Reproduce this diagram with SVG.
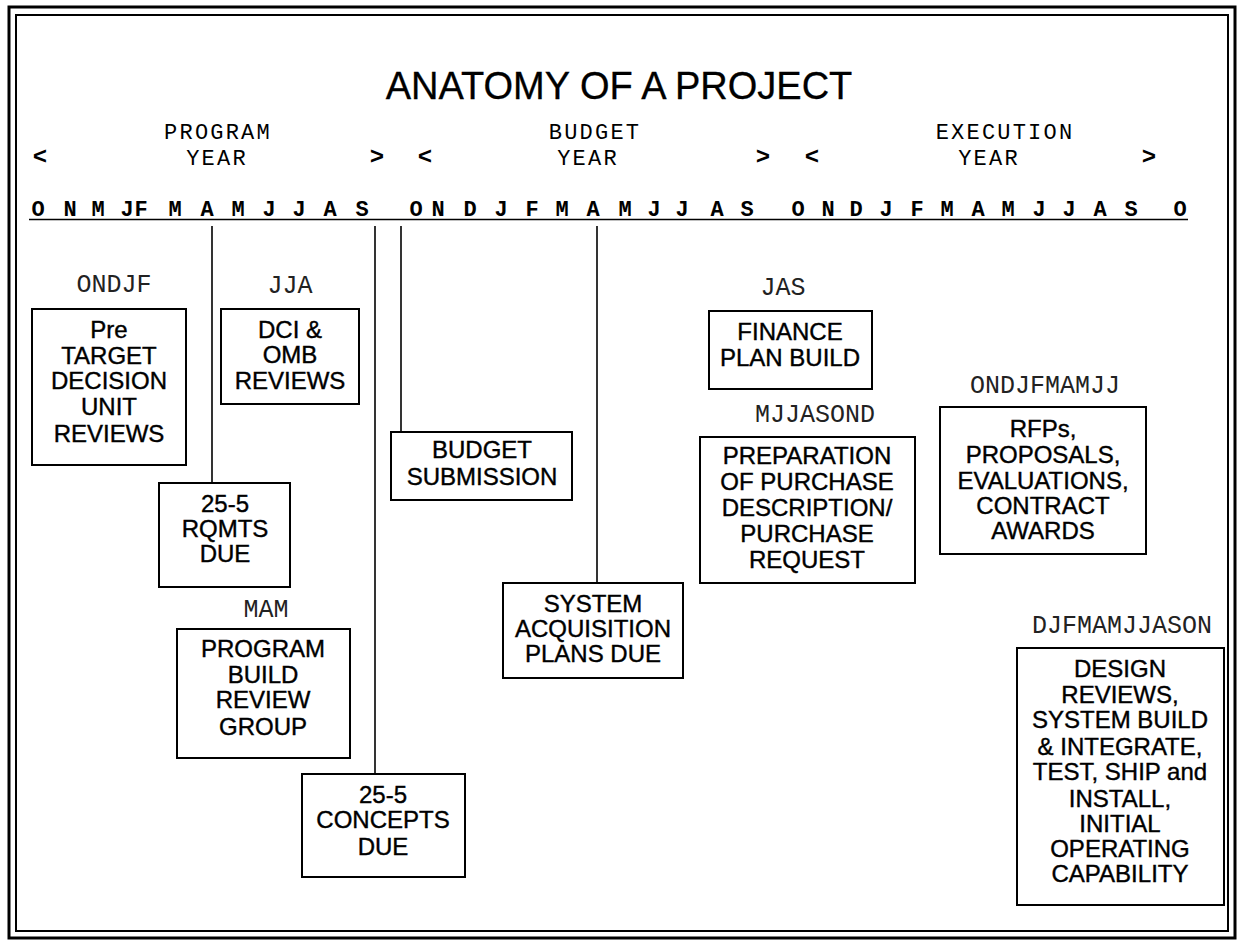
<svg xmlns="http://www.w3.org/2000/svg" width="1240" height="944" viewBox="0 0 1240 944">
<style>
.bg{fill:#fff}
.frame-o{fill:none;stroke:#000;stroke-width:3}
.frame-i{fill:none;stroke:#000;stroke-width:2}
.box{fill:#fff;stroke:#000;stroke-width:2}
.conn{stroke:#000;stroke-width:1.6;fill:none}
.title{font-family:"Liberation Sans",Arial,sans-serif;font-size:38px;fill:#000;stroke:#000;stroke-width:0.3;text-anchor:middle}
.hdr{font-family:"Liberation Mono","Courier New",monospace;font-size:22px;letter-spacing:2.2px;fill:#000;text-anchor:middle}
.chev{font-family:"Liberation Mono","Courier New",monospace;font-size:24px;font-weight:bold;fill:#000;text-anchor:middle}
.mon{font-family:"Liberation Mono","Courier New",monospace;font-size:22px;font-weight:bold;fill:#000;text-anchor:middle}
.lbl{font-family:"Liberation Mono","Courier New",monospace;font-size:25px;fill:#222;text-anchor:middle}
.bt{font-family:"Liberation Sans",Arial,sans-serif;font-size:24px;fill:#000;stroke:#000;stroke-width:0.4;text-anchor:middle}
</style>
<rect class="bg" x="0" y="0" width="1240" height="944"/>
<g id="frame">
<rect class="frame-o" x="9" y="7" width="1226" height="931"/>
<rect class="frame-i" x="16" y="15" width="1212" height="916"/>
</g>
<g id="title">
<text class="title" x="619" y="99">ANATOMY OF A PROJECT</text>
</g>
<g id="header">
<text class="hdr" x="218" y="139">PROGRAM</text>
<text class="hdr" x="217" y="165">YEAR</text>
<text class="hdr" x="595" y="139">BUDGET</text>
<text class="hdr" x="588" y="165">YEAR</text>
<text class="hdr" x="1005" y="139">EXECUTION</text>
<text class="hdr" x="989" y="165">YEAR</text>
<text class="chev" x="40" y="164">&lt;</text>
<text class="chev" x="377" y="164">&gt;</text>
<text class="chev" x="425" y="164">&lt;</text>
<text class="chev" x="763" y="164">&gt;</text>
<text class="chev" x="812" y="164">&lt;</text>
<text class="chev" x="1149" y="164">&gt;</text>
</g>
<g id="months">
<text class="mon" x="38" y="216">O</text>
<text class="mon" x="70" y="216">N</text>
<text class="mon" x="98" y="216">M</text>
<text class="mon" x="127" y="216">J</text>
<text class="mon" x="141" y="216">F</text>
<text class="mon" x="175" y="216">M</text>
<text class="mon" x="207" y="216">A</text>
<text class="mon" x="238" y="216">M</text>
<text class="mon" x="269" y="216">J</text>
<text class="mon" x="299" y="216">J</text>
<text class="mon" x="330" y="216">A</text>
<text class="mon" x="362" y="216">S</text>
<text class="mon" x="416" y="216">O</text>
<text class="mon" x="438" y="216">N</text>
<text class="mon" x="470" y="216">D</text>
<text class="mon" x="501" y="216">J</text>
<text class="mon" x="532" y="216">F</text>
<text class="mon" x="562" y="216">M</text>
<text class="mon" x="593" y="216">A</text>
<text class="mon" x="625" y="216">M</text>
<text class="mon" x="654" y="216">J</text>
<text class="mon" x="682" y="216">J</text>
<text class="mon" x="717" y="216">A</text>
<text class="mon" x="747" y="216">S</text>
<text class="mon" x="798" y="216">O</text>
<text class="mon" x="828" y="216">N</text>
<text class="mon" x="856" y="216">D</text>
<text class="mon" x="886" y="216">J</text>
<text class="mon" x="917" y="216">F</text>
<text class="mon" x="947" y="216">M</text>
<text class="mon" x="978" y="216">A</text>
<text class="mon" x="1008" y="216">M</text>
<text class="mon" x="1039" y="216">J</text>
<text class="mon" x="1069" y="216">J</text>
<text class="mon" x="1100" y="216">A</text>
<text class="mon" x="1131" y="216">S</text>
<text class="mon" x="1180" y="216">O</text>
<line class="conn" x1="29" y1="219.5" x2="1188" y2="219.5"/>
</g>
<g id="connectors">
<line class="conn" x1="212" y1="226" x2="212" y2="483"/>
<line class="conn" x1="375" y1="226" x2="375" y2="774"/>
<line class="conn" x1="401" y1="226" x2="401" y2="432"/>
<line class="conn" x1="597" y1="226" x2="597" y2="583"/>
</g>
<g id="n-pre">
<text class="lbl" x="114" y="292">ONDJF</text>
<rect class="box" x="32" y="309" width="154" height="156"/>
<text class="bt" x="109" y="338">Pre</text>
<text class="bt" x="109" y="364">TARGET</text>
<text class="bt" x="109" y="389">DECISION</text>
<text class="bt" x="109" y="415">UNIT</text>
<text class="bt" x="109" y="442">REVIEWS</text>
</g>
<g id="n-dci">
<text class="lbl" x="290" y="293">JJA</text>
<rect class="box" x="221" y="309" width="138" height="95"/>
<text class="bt" x="290" y="338">DCI &amp;</text>
<text class="bt" x="290" y="363">OMB</text>
<text class="bt" x="290" y="389">REVIEWS</text>
</g>
<g id="n-rqmts">
<rect class="box" x="159" y="483" width="131" height="104"/>
<text class="bt" x="225" y="512">25-5</text>
<text class="bt" x="225" y="537">RQMTS</text>
<text class="bt" x="225" y="562">DUE</text>
</g>
<g id="n-program-build">
<text class="lbl" x="266" y="617">MAM</text>
<rect class="box" x="177" y="629" width="173" height="129"/>
<text class="bt" x="263" y="657">PROGRAM</text>
<text class="bt" x="263" y="683">BUILD</text>
<text class="bt" x="263" y="708">REVIEW</text>
<text class="bt" x="263" y="735">GROUP</text>
</g>
<g id="n-concepts">
<rect class="box" x="302" y="774" width="163" height="103"/>
<text class="bt" x="383" y="803">25-5</text>
<text class="bt" x="383" y="828">CONCEPTS</text>
<text class="bt" x="383" y="855">DUE</text>
</g>
<g id="n-budget-submission">
<rect class="box" x="391" y="432" width="181" height="68"/>
<text class="bt" x="482" y="458">BUDGET</text>
<text class="bt" x="482" y="485">SUBMISSION</text>
</g>
<g id="n-system-acquisition">
<rect class="box" x="503" y="583" width="180" height="95"/>
<text class="bt" x="593" y="612">SYSTEM</text>
<text class="bt" x="593" y="637">ACQUISITION</text>
<text class="bt" x="593" y="662">PLANS DUE</text>
</g>
<g id="n-finance">
<text class="lbl" x="783" y="295">JAS</text>
<rect class="box" x="709" y="311" width="163" height="78"/>
<text class="bt" x="790" y="340">FINANCE</text>
<text class="bt" x="790" y="366">PLAN BUILD</text>
</g>
<g id="n-preparation">
<text class="lbl" x="815" y="422">MJJASOND</text>
<rect class="box" x="700" y="437" width="215" height="146"/>
<text class="bt" x="807" y="464">PREPARATION</text>
<text class="bt" x="807" y="490">OF PURCHASE</text>
<text class="bt" x="807" y="516">DESCRIPTION/</text>
<text class="bt" x="807" y="542">PURCHASE</text>
<text class="bt" x="807" y="568">REQUEST</text>
</g>
<g id="n-rfps">
<text class="lbl" x="1045" y="393">ONDJFMAMJJ</text>
<rect class="box" x="940" y="407" width="206" height="147"/>
<text class="bt" x="1043" y="437">RFPs,</text>
<text class="bt" x="1043" y="463">PROPOSALS,</text>
<text class="bt" x="1043" y="489">EVALUATIONS,</text>
<text class="bt" x="1043" y="514">CONTRACT</text>
<text class="bt" x="1043" y="539">AWARDS</text>
</g>
<g id="n-design">
<text class="lbl" x="1122" y="633">DJFMAMJJASON</text>
<rect class="box" x="1017" y="648" width="207" height="257"/>
<text class="bt" x="1120" y="677">DESIGN</text>
<text class="bt" x="1120" y="703">REVIEWS,</text>
<text class="bt" x="1120" y="728">SYSTEM BUILD</text>
<text class="bt" x="1120" y="755">&amp; INTEGRATE,</text>
<text class="bt" x="1120" y="780">TEST, SHIP and</text>
<text class="bt" x="1120" y="807">INSTALL,</text>
<text class="bt" x="1120" y="832">INITIAL</text>
<text class="bt" x="1120" y="857">OPERATING</text>
<text class="bt" x="1120" y="882">CAPABILITY</text>
</g>
</svg>
